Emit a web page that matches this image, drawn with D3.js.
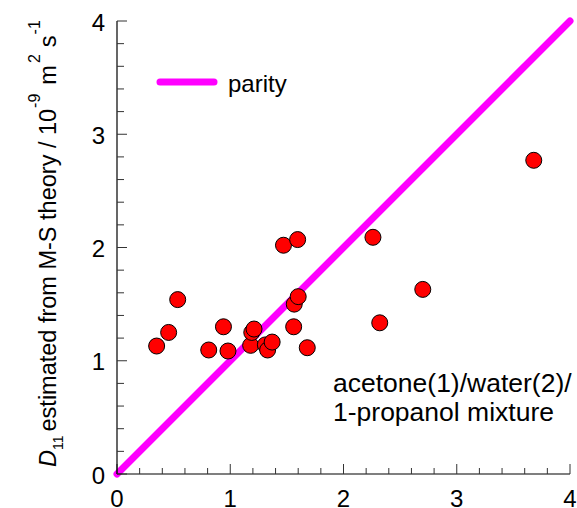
<!DOCTYPE html>
<html><head><meta charset="utf-8">
<script src="https://cdn.jsdelivr.net/npm/d3@7"></script>
<style>body{margin:0;background:#fff}svg{display:block}text{font-family:Arial,"Liberation Sans",sans-serif;fill:#000}</style>
</head><body>
<script>
const xValues = [0.35,0.456,0.536,0.81,0.94,0.98,1.18,1.19,1.21,1.31,1.33,1.37,1.47,1.595,1.565,1.60,1.56,1.68,3.68,2.26,2.70,2.32];
const yValues = [1.13,1.25,1.54,1.095,1.30,1.086,1.136,1.25,1.28,1.14,1.095,1.165,2.02,2.07,1.50,1.566,1.30,1.115,2.77,2.09,1.63,1.335];
const parity = [[0,0],[4,4]];
const tickLabels = [0,1,2,3,4];
const legendLabel = "parity";
const noteLines = ["acetone(1)/water(2)/","1-propanol mixture"];

const W=577,H=508;
const svg=d3.select("body").append("svg").attr("width",W).attr("height",H);
const x=d3.scaleLinear().domain([0,4]).range([117,570]);
const y=d3.scaleLinear().domain([0,4]).range([474,21]);

// parity line
svg.append("line").attr("x1",x(parity[0][0])).attr("y1",y(parity[0][1]))
  .attr("x2",x(parity[1][0])).attr("y2",y(parity[1][1]))
  .attr("stroke","#ff00ff").attr("stroke-width",7).attr("stroke-linecap","round");

// axes
const minor=d3.range(0,4.0001,0.2).map(v=>+v.toFixed(1));
const xa=svg.append("g").attr("transform",`translate(0,${y(0)})`);
xa.append("line").attr("x1",x(0)).attr("x2",x(4)).attr("stroke","#000").attr("stroke-width",1.2);
xa.selectAll("line.t").data(minor).join("line").attr("class","t")
  .attr("x1",d=>x(d)).attr("x2",d=>x(d)).attr("y1",0).attr("y2",d=>Number.isInteger(d)?-10:-6)
  .attr("stroke","#333").attr("stroke-width",1);
xa.selectAll("text").data(tickLabels).join("text").attr("x",d=>x(d)).attr("y",33)
  .attr("text-anchor","middle").attr("font-size",24).text(d=>d);
const ya=svg.append("g").attr("transform",`translate(${x(0)},0)`);
ya.append("line").attr("y1",y(0)).attr("y2",y(4)).attr("stroke","#000").attr("stroke-width",1.2);
ya.selectAll("line.t").data(minor).join("line").attr("class","t")
  .attr("y1",d=>y(d)).attr("y2",d=>y(d)).attr("x1",0).attr("x2",d=>Number.isInteger(d)?10:7)
  .attr("stroke","#333").attr("stroke-width",1);
ya.selectAll("text").data(tickLabels).join("text").attr("x",-12).attr("y",d=>y(d)+9.5)
  .attr("text-anchor","end").attr("font-size",24).text(d=>d);

// points
svg.selectAll("circle").data(xValues.map((v,i)=>[v,yValues[i]])).join("circle")
  .attr("cx",d=>x(d[0])).attr("cy",d=>y(d[1])).attr("r",8)
  .attr("fill","#ff0000").attr("stroke","#000").attr("stroke-width",1);

// legend
svg.append("line").attr("x1",160).attr("x2",214).attr("y1",82).attr("y2",82)
  .attr("stroke","#ff00ff").attr("stroke-width",7).attr("stroke-linecap","round");
svg.append("text").attr("x",228).attr("y",92).attr("font-size",24).text(legendLabel);

// note
svg.selectAll("text.note").data(noteLines).join("text").attr("class","note")
  .attr("x",333).attr("y",(d,i)=>392+i*29).attr("font-size",26.5).text(d=>d);

// y label (flowing tspans)
const yl=svg.append("text").attr("transform","translate(56,467) rotate(-90)").attr("font-size",23.5);
yl.append("tspan").attr("font-style","italic").text("D");
yl.append("tspan").attr("dy",7).attr("font-size",14).text("11");
yl.append("tspan").attr("dy",-7).attr("dx",4).text("estimated from M-S theory / 10");
yl.append("tspan").attr("dy",-16).attr("dx",1).attr("font-size",16).text("-9");
yl.append("tspan").attr("dy",16).attr("dx",9).text("m");
yl.append("tspan").attr("dy",-16).attr("dx",2).attr("font-size",16).text("2");
yl.append("tspan").attr("dy",16).attr("dx",7).text("s");
yl.append("tspan").attr("dy",-16).attr("dx",1).attr("font-size",16).text("-1");
</script>
</body></html>
